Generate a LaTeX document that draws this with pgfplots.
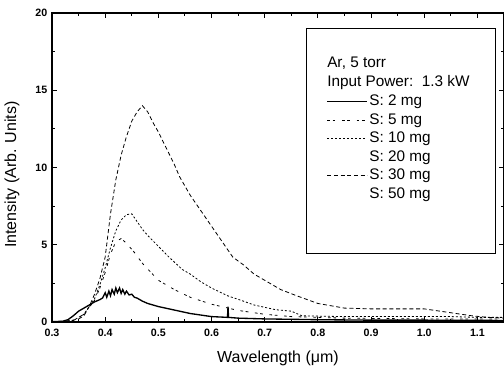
\documentclass[border=0pt]{standalone}
\usepackage{fontspec}
\setmainfont{Liberation Sans}
\usepackage{pgfplots}
\pgfplotsset{compat=1.18}
\begin{document}
\begin{tikzpicture}
\begin{axis}[
  scale only axis, width=339pt, height=231.75pt,
  xmin=0.3, xmax=1.15, ymin=0, ymax=20,
  xtick={0.3,0.4,0.5,0.6,0.7,0.8,0.9,1.0,1.1},
  ytick={0,5,10,15,20},
  minor x tick num=1, minor y tick num=1,
  tick align=inside, major tick length=3.5pt, minor tick length=2pt,
  axis line style={line width=0.9pt},
  every tick/.style={line width=0.8pt, black},
  /pgf/number format/assume math mode=true,
  xticklabel style={font=\fontsize{8}{9}\selectfont\bfseries, yshift=-2pt,
    /pgf/number format/fixed, /pgf/number format/fixed zerofill,
    /pgf/number format/precision=1},
  yticklabel style={font=\fontsize{8}{9}\selectfont\bfseries},
  xlabel={Wavelength (μm)}, ylabel={Intensity (Arb. Units)},
  label style={font=\fontsize{12}{14}\selectfont},
  xlabel style={at={(axis description cs:0.5,-0.1165)}, anchor=center},
  ylabel style={at={(axis description cs:-0.0885,0.477)}, anchor=center},
  legend cell align=left,
  legend image code/.code={\draw[#1] (0pt,0pt) -- (30pt,0pt);},
  legend style={at={(axis description cs:0.607,0.742)}, anchor=north west,
    draw=none, fill=none, inner sep=0pt, row sep=0.9pt,
    font=\fontsize{11.5}{13}\selectfont,
    nodes={inner sep=1pt, text height=8.5pt, text depth=2.5pt}},
]
% S: 2 mg (solid)
\addplot[black, line width=1pt] coordinates {
(0.30,0.02)(0.32,0.05)(0.33,0.15)(0.34,0.4)(0.35,0.7)(0.36,0.9)(0.37,1.1)(0.38,1.3)
(0.39,1.45)(0.395,1.55)(0.40,1.9)(0.403,1.6)(0.407,2.0)(0.41,1.7)(0.413,2.1)(0.417,1.8)
(0.42,2.2)(0.423,1.9)(0.427,2.2)(0.43,1.85)(0.433,2.1)(0.437,1.8)(0.44,2.0)(0.445,1.75)
(0.45,1.8)(0.455,1.6)(0.46,1.55)(0.47,1.35)(0.48,1.2)(0.49,1.1)(0.50,1.0)(0.52,0.85)
(0.54,0.7)(0.56,0.55)(0.58,0.45)(0.60,0.35)(0.630,0.3)(0.631,1.0)(0.632,0.3)(0.65,0.25)
(0.70,0.2)(0.80,0.15)(0.90,0.12)(1.00,0.12)(1.15,0.1)};
\addlegendentry{S: 2 mg}
% S: 5 mg
\addplot[black, line width=0.6pt, dash pattern=on 2pt off 2pt on 2pt off 5pt] coordinates {
(0.30,0)(0.34,0.1)(0.36,0.5)(0.38,1.4)(0.39,2.2)(0.40,3.2)(0.41,4.4)(0.42,5.2)(0.43,5.4)
(0.44,5.1)(0.455,4.5)(0.47,3.8)(0.50,2.7)(0.53,2.1)(0.56,1.6)(0.60,1.15)(0.65,0.75)
(0.70,0.5)(0.75,0.35)(0.85,0.25)(1.00,0.2)(1.15,0.2)};
\addlegendentry{S: 5 mg}
% S: 10 mg
\addplot[black, line width=0.6pt, dash pattern=on 1.5pt off 1.5pt] coordinates {
(0.30,0)(0.34,0.1)(0.36,0.5)(0.38,1.5)(0.39,2.4)(0.40,3.5)(0.41,4.8)(0.42,5.9)(0.43,6.6)
(0.44,6.95)(0.45,7.0)(0.46,6.5)(0.47,6.0)(0.48,5.6)(0.50,4.9)(0.52,4.2)(0.545,3.4)
(0.56,3.1)(0.58,2.6)(0.60,2.2)(0.63,1.7)(0.66,1.35)(0.68,1.1)(0.70,0.95)(0.72,0.8)
(0.75,0.7)(0.77,0.4)(0.85,0.35)(0.95,0.35)(1.05,0.35)(1.10,0.3)(1.15,0.3)};
\addlegendentry{S: 10 mg}
\addlegendimage{white, draw opacity=0}
\addlegendentry{S: 20 mg}
% S: 30 mg
\addplot[black, line width=0.6pt, dash pattern=on 3pt off 2pt] coordinates {
(0.30,0)(0.33,0.05)(0.35,0.2)(0.36,0.4)(0.37,1.0)(0.38,1.8)(0.39,2.8)(0.40,4.2)(0.405,5.6)
(0.41,7.0)(0.415,8.1)(0.42,9.2)(0.425,10.0)(0.43,10.8)(0.44,12.0)(0.45,13.0)(0.46,13.6)
(0.47,14.0)(0.48,13.6)(0.49,12.9)(0.50,12.3)(0.51,11.6)(0.52,10.9)(0.53,10.2)(0.54,9.4)
(0.55,8.8)(0.56,8.2)(0.58,7.2)(0.60,6.2)(0.62,5.2)(0.64,4.2)(0.66,3.7)(0.68,3.1)(0.70,2.7)
(0.73,2.1)(0.76,1.7)(0.80,1.2)(0.85,0.9)(0.90,0.85)(0.95,0.85)(1.00,0.85)(1.03,0.7)
(1.06,0.55)(1.09,0.4)(1.12,0.3)(1.15,0.25)};
\addlegendentry{S: 30 mg}
\addlegendimage{white, draw opacity=0}
\addlegendentry{S: 50 mg}
% legend frame and header
\draw[line width=0.8pt] (axis description cs:0.564,0.223) rectangle (axis description cs:0.982,0.951);
\node[anchor=west, inner sep=0pt, font=\fontsize{11.5}{13}\selectfont] at (axis description cs:0.6084,0.838) {Ar, 5 torr};
\node[anchor=west, inner sep=0pt, font=\fontsize{11.5}{13}\selectfont] at (axis description cs:0.6084,0.7735) {Input Power:\ \ 1.3 kW};
\end{axis}
\pgfresetboundingbox
\path ([shift={(-39pt,-36.75pt)}]current axis.south west) rectangle ([shift={(0pt,9.75pt)}]current axis.north east);
\end{tikzpicture}
\end{document}
